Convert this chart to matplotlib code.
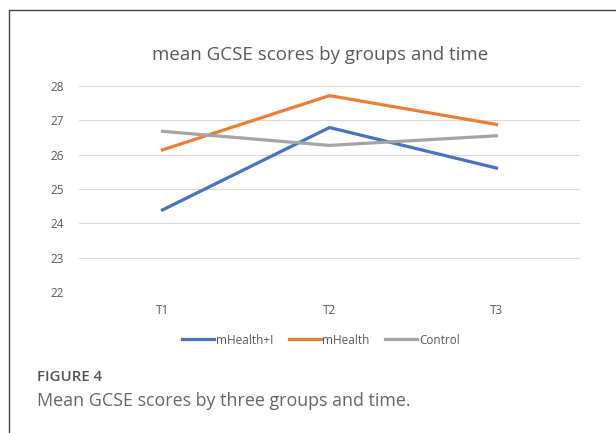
import matplotlib
matplotlib.use("Agg")
from matplotlib import pyplot as plt
from matplotlib.lines import Line2D

times = ["T1", "T2", "T3"]
mhealth_i = [24.39, 26.79, 25.61]
mhealth = [26.14, 27.72, 26.88]
control = [26.68, 26.27, 26.55]
series_names = ["mHealth+I", "mHealth", "Control"]
yticks = [22, 23, 24, 25, 26, 27, 28]

plt.rcParams['font.family'] = ['Open Sans', 'DejaVu Sans']

W, H = 616, 433
fig = plt.figure(figsize=(W / 100, H / 100), dpi=100)

# axes box in pixel coords of the reference
left, right, top, bottom = 79, 580, 86, 292
ax = fig.add_axes([left / W, 1 - bottom / H, (right - left) / W, (bottom - top) / H])

colors = ["#4472C4", "#ED7D31", "#A5A5A5"]
xs = range(len(times))
for vals, name, c in zip([mhealth_i, mhealth, control], series_names, colors):
    ax.plot(xs, vals, color=c, linewidth=2.3, label=name)

ax.set_xlim(-0.5, len(times) - 0.5)
ax.set_ylim(22, 28)
ax.set_yticks(yticks)
ax.set_xticks(list(xs))
ax.set_xticklabels(times)
ax.grid(axis="y", color="#D9D9D9", linewidth=0.8)
ax.set_axisbelow(True)
for s in ax.spines.values():
    s.set_visible(False)
ax.tick_params(length=0, labelsize=8.5, labelcolor="#595959")
ax.tick_params(axis="y", pad=11)
ax.tick_params(axis="x", pad=9)

fig.text(320 / W, 1 - 55 / H, "mean GCSE scores by groups and time",
         ha="center", va="center", fontsize=13.5, color="#595959")

leg = fig.legend(loc="center", bbox_to_anchor=(321 / W, 1 - 340 / H), ncol=3,
                 frameon=False, fontsize=8.5, handlelength=2.7, handletextpad=0.15,
                 columnspacing=1.3, labelcolor="#595959")

# outer frame (left and top only visible)
fig.add_artist(Line2D([9 / W, 9 / W, 1.0], [0.0, 1 - 10 / H, 1 - 10 / H],
                      transform=fig.transFigure, color="#444444", linewidth=1.0))

fig.text(37 / W, 1 - 377 / H, "FIGURE 4", ha="left", va="center",
         fontsize=10.8, color="#555555", fontweight="semibold")
fig.text(37 / W, 1 - 401 / H, "Mean GCSE scores by three groups and time.",
         ha="left", va="center", fontsize=12.9, color="#666666")

fig.savefig("out.png", dpi=100)
